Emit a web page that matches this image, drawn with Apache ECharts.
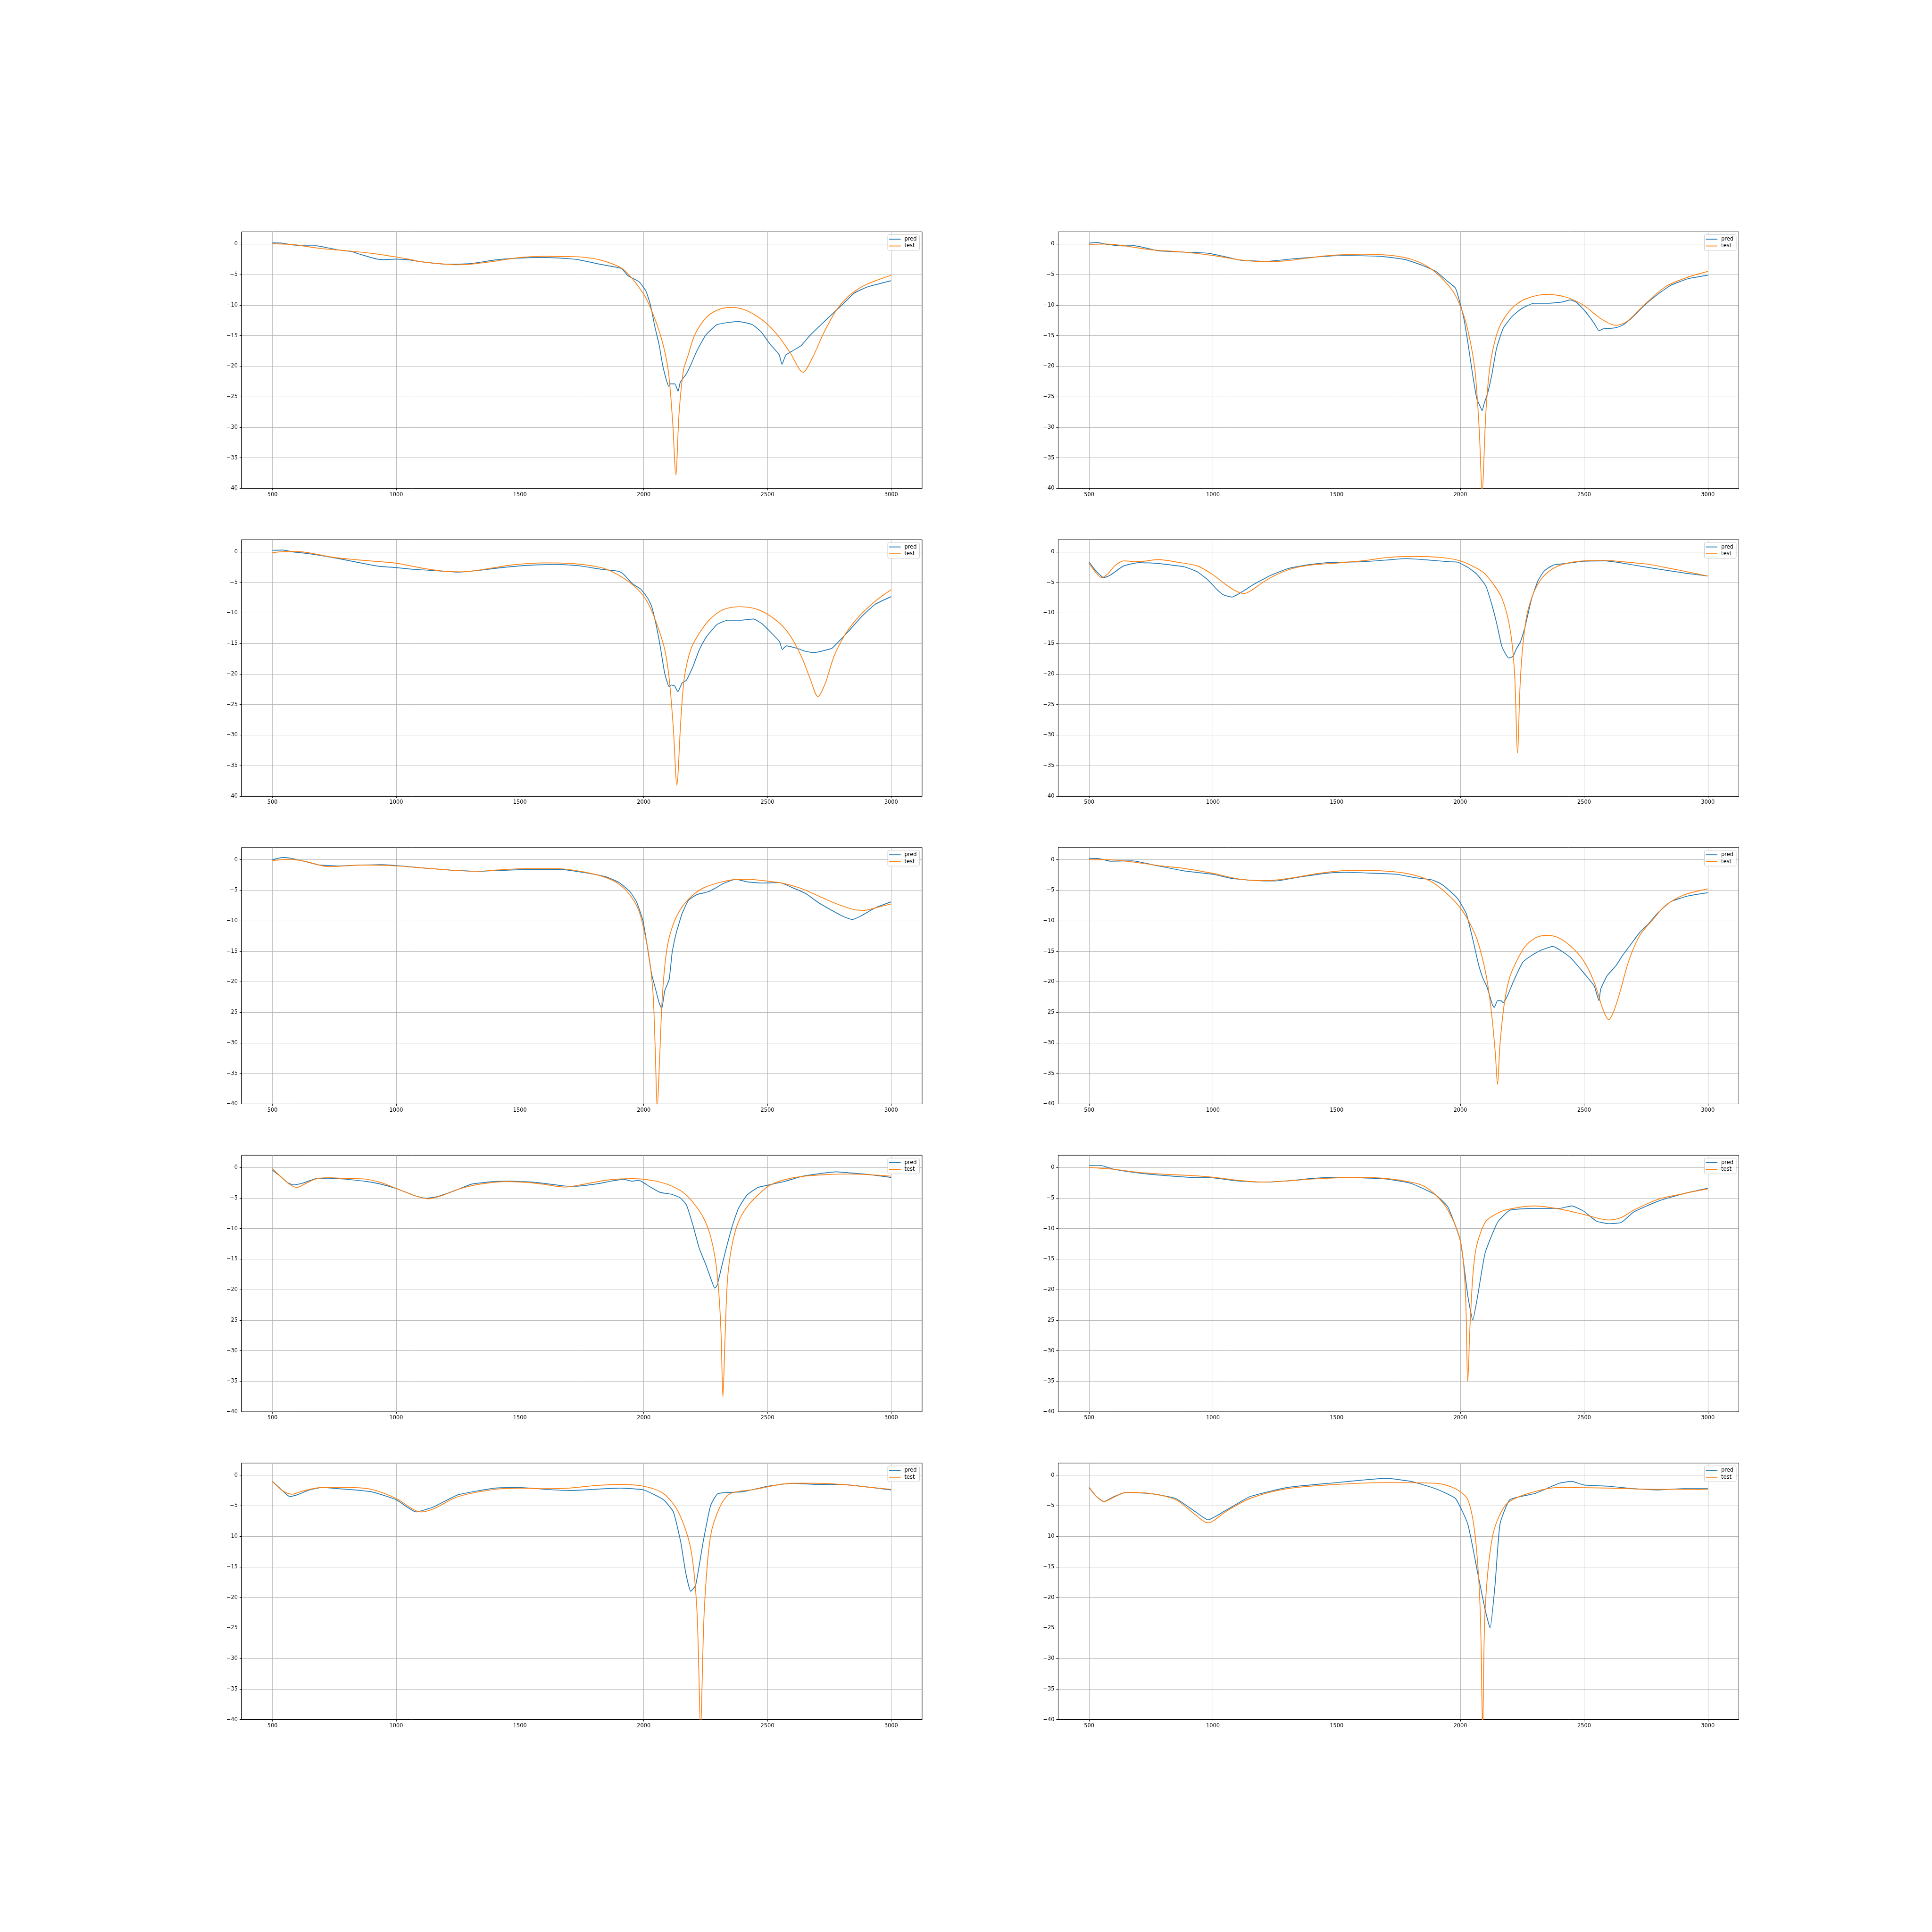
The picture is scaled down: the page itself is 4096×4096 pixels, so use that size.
<!DOCTYPE html>
<html><head><meta charset="utf-8">
<script src="https://cdn.jsdelivr.net/npm/echarts@6/dist/echarts.min.js"></script>
<style>html,body{margin:0;padding:0;background:#fff}#c{width:4096px;height:4096px}</style>
</head><body><div id="c"></div>
<script>
const xTicks=[500,1000,1500,2000,2500,3000];
const yTicks=[-40,-35,-30,-25,-20,-15,-10,-5,0];
const seriesNames=['pred','test'];

const pred0=[[500,0.2],[533,0.18],[585,-0.16],[637,-0.28],[679,-0.28],[715,-0.55],[768,-0.97],[820,-1.22],[846,-1.57],[898,-2.2],[924,-2.47],[950,-2.54],[1002,-2.47],[1054,-2.6],[1100,-2.9],[1200,-3.3],[1300,-3.2],[1400,-2.6],[1500,-2.3],[1600,-2.2],[1700,-2.4],[1740,-2.6],[1830,-3.36],[1910,-4.0],[1937,-5.2],[1982,-6.2],[2009,-7.7],[2027,-9.9],[2045,-13.5],[2063,-16.6],[2076,-19.7],[2090,-22.0],[2101,-23.3],[2108,-22.9],[2126,-22.9],[2139,-24.1],[2148,-22.6],[2170,-21.4],[2188,-20.0],[2215,-17.5],[2251,-14.9],[2296,-13.2],[2350,-12.8],[2386,-12.7],[2439,-13.2],[2475,-14.4],[2511,-16.4],[2547,-18.1],[2559,-19.7],[2574,-18.2],[2601,-17.5],[2637,-16.6],[2673,-14.9],[2709,-13.5],[2753,-11.8],[2798,-10.1],[2852,-8.0],[2906,-7.0],[2951,-6.5],[3000,-6.0]];
const test0=[[500,0.04],[585,-0.1],[690,-0.7],[794,-1.08],[898,-1.5],[1002,-2.13],[1054,-2.51],[1100,-2.9],[1200,-3.3],[1250,-3.4],[1300,-3.3],[1400,-2.8],[1500,-2.2],[1600,-2.0],[1700,-2.05],[1740,-2.09],[1830,-2.66],[1919,-4.2],[2000,-8.2],[2036,-11.3],[2072,-15.5],[2099,-20.6],[2117,-29.1],[2130,-37.8],[2143,-27.7],[2161,-20.6],[2179,-18.3],[2206,-14.9],[2251,-12.1],[2296,-10.85],[2350,-10.37],[2404,-10.7],[2457,-11.8],[2502,-13.2],[2547,-15.2],[2592,-17.8],[2644,-21.0],[2682,-18.6],[2726,-14.7],[2771,-11.3],[2816,-9.0],[2861,-7.5],[2906,-6.5],[2951,-5.8],[3000,-5.1]];

const pred1=[[500,0.16],[533,0.25],[568,-0.03],[639,-0.3],[682,-0.27],[779,-1.1],[884,-1.32],[981,-1.5],[1042,-2.0],[1112,-2.64],[1217,-2.83],[1322,-2.42],[1427,-2.09],[1515,-1.9],[1603,-1.92],[1691,-2.06],[1778,-2.55],[1848,-3.52],[1901,-4.48],[1945,-6.0],[1980,-7.2],[1997,-9.4],[2015,-12.4],[2032,-16.6],[2050,-21.5],[2067,-25.4],[2080,-26.6],[2088,-27.3],[2097,-26.0],[2111,-24.3],[2129,-21.0],[2146,-17.1],[2173,-13.8],[2208,-11.9],[2243,-10.7],[2296,-9.7],[2357,-9.7],[2410,-9.5],[2444,-9.15],[2471,-9.6],[2506,-11.1],[2541,-13.0],[2560,-14.2],[2576,-13.9],[2628,-13.7],[2655,-13.3],[2690,-12.2],[2742,-10.1],[2795,-8.3],[2848,-6.8],[2918,-5.7],[3000,-5.1]];
const test1=[[500,-0.05],[568,0],[639,-0.27],[744,-0.9],[884,-1.32],[1000,-1.87],[1112,-2.6],[1217,-2.9],[1305,-2.7],[1427,-2.06],[1499,-1.79],[1603,-1.65],[1708,-1.81],[1796,-2.42],[1866,-3.65],[1918,-5.3],[1971,-7.8],[2006,-10.8],[2032,-14.4],[2059,-20.7],[2076,-30.3],[2088,-40.5],[2103,-27.6],[2120,-19.9],[2146,-14.9],[2173,-12.4],[2217,-10.2],[2269,-8.9],[2348,-8.24],[2427,-8.7],[2497,-10.0],[2567,-12.2],[2628,-13.3],[2672,-12.7],[2742,-10.0],[2830,-6.95],[2918,-5.44],[3000,-4.48]];

const pred2=[[500,0.25],[542,0.3],[586,-0.03],[639,-0.25],[726,-0.8],[814,-1.48],[902,-2.17],[937,-2.39],[1000,-2.58],[1067,-2.86],[1130,-3.0],[1253,-3.32],[1340,-3.0],[1427,-2.58],[1515,-2.25],[1603,-2.09],[1673,-2.09],[1743,-2.3],[1831,-2.86],[1901,-3.19],[1919,-3.68],[1954,-5.2],[1989,-6.15],[2015,-7.5],[2032,-8.9],[2050,-11.9],[2067,-15.5],[2085,-19.9],[2103,-22.1],[2111,-21.8],[2125,-21.95],[2138,-22.9],[2155,-21.5],[2173,-21.0],[2199,-18.8],[2225,-16.0],[2252,-14.0],[2296,-11.9],[2339,-11.2],[2392,-11.2],[2444,-11.0],[2479,-11.8],[2514,-13.2],[2549,-14.7],[2560,-16.0],[2576,-15.4],[2620,-15.8],[2655,-16.3],[2690,-16.5],[2725,-16.2],[2760,-15.8],[2795,-14.4],[2830,-12.9],[2883,-10.5],[2935,-8.6],[3000,-7.33]];
const test2=[[500,-0.14],[568,0.08],[639,-0.1],[744,-0.88],[831,-1.26],[937,-1.62],[1007,-1.9],[1112,-2.72],[1200,-3.2],[1270,-3.27],[1357,-2.86],[1463,-2.17],[1603,-1.81],[1708,-1.9],[1814,-2.45],[1866,-3.13],[1936,-4.78],[1989,-6.7],[2024,-8.9],[2059,-12.5],[2085,-16.0],[2103,-20.7],[2120,-29.0],[2134,-38.2],[2150,-27.6],[2164,-20.7],[2190,-16.0],[2225,-13.3],[2269,-11.0],[2322,-9.45],[2388,-8.98],[2462,-9.45],[2532,-11.1],[2585,-13.3],[2637,-17.1],[2672,-20.7],[2704,-23.7],[2734,-21.5],[2769,-17.1],[2813,-13.6],[2865,-10.8],[2935,-8.1],[3000,-6.2]];

const pred3=[[500,-1.68],[525,-3.0],[560,-4.23],[586,-3.8],[639,-2.31],[700,-1.76],[779,-1.9],[884,-2.45],[937,-3.27],[981,-4.64],[1016,-6.15],[1042,-7.03],[1077,-7.4],[1112,-6.7],[1165,-5.33],[1235,-3.82],[1305,-2.72],[1375,-2.17],[1463,-1.76],[1603,-1.62],[1708,-1.32],[1778,-1.1],[1866,-1.32],[1954,-1.62],[1989,-1.68],[2032,-2.58],[2067,-3.68],[2103,-5.6],[2129,-8.9],[2146,-11.6],[2167,-15.4],[2181,-16.6],[2195,-17.4],[2213,-17.1],[2225,-16.0],[2243,-14.7],[2260,-12.5],[2287,-7.8],[2313,-4.78],[2339,-3.13],[2375,-2.17],[2427,-1.9],[2497,-1.54],[2585,-1.48],[2655,-1.84],[2743,-2.45],[2830,-3.0],[2918,-3.54],[3000,-3.96]];
const test3=[[500,-1.9],[525,-3.27],[551,-4.23],[577,-3.54],[603,-2.31],[639,-1.48],[700,-1.62],[779,-1.26],[867,-1.76],[937,-2.31],[998,-3.68],[1051,-5.33],[1094,-6.43],[1126,-6.84],[1156,-6.3],[1200,-5.05],[1252,-3.82],[1322,-2.72],[1392,-2.17],[1499,-1.84],[1603,-1.48],[1708,-0.91],[1814,-0.74],[1918,-0.91],[1989,-1.35],[2041,-2.17],[2094,-3.41],[2129,-5.05],[2164,-7.25],[2190,-10.5],[2208,-14.7],[2220,-20.7],[2231,-32.9],[2241,-22.1],[2252,-15.5],[2269,-10.3],[2296,-6.7],[2331,-4.23],[2375,-2.72],[2427,-1.9],[2497,-1.48],[2585,-1.37],[2655,-1.62],[2760,-2.03],[2830,-2.58],[2900,-3.13],[3000,-3.96]];

const pred4=[[500,0],[542,0.36],[577,0.22],[639,-0.38],[691,-0.88],[761,-1.02],[866,-0.88],[937,-0.82],[1000,-0.96],[1112,-1.37],[1217,-1.7],[1340,-1.9],[1427,-1.76],[1515,-1.62],[1656,-1.57],[1761,-2.12],[1848,-2.8],[1901,-3.76],[1945,-5.27],[1971,-6.9],[1997,-9.95],[2015,-14.3],[2032,-18.7],[2050,-21.5],[2062,-23.4],[2073,-24.4],[2085,-21.5],[2103,-19.6],[2115,-15.2],[2129,-12.4],[2155,-8.85],[2181,-6.65],[2216,-5.7],[2260,-5.27],[2287,-4.73],[2322,-3.9],[2371,-3.21],[2418,-3.63],[2479,-3.82],[2549,-3.76],[2602,-4.6],[2655,-5.55],[2707,-7.06],[2760,-8.3],[2804,-9.26],[2843,-9.8],[2883,-9.1],[2935,-7.9],[3000,-6.9]];
const test4=[[500,-0.16],[568,0.08],[639,-0.33],[726,-1.15],[796,-1.02],[866,-0.88],[1000,-1.02],[1112,-1.37],[1217,-1.7],[1322,-1.9],[1427,-1.65],[1515,-1.48],[1656,-1.48],[1761,-2.03],[1848,-2.94],[1901,-4.04],[1945,-5.8],[1980,-8.3],[2006,-12.4],[2024,-16.5],[2038,-22.0],[2046,-30.3],[2055,-40.5],[2064,-33.0],[2076,-22.0],[2094,-14.6],[2120,-10.5],[2155,-7.75],[2199,-5.8],[2243,-4.6],[2304,-3.76],[2357,-3.3],[2418,-3.21],[2497,-3.49],[2567,-3.9],[2637,-4.73],[2707,-5.96],[2777,-7.2],[2848,-8.16],[2891,-8.3],[2935,-7.9],[3000,-7.25]];

const pred5=[[500,0.22],[542,0.16],[586,-0.25],[674,-0.19],[779,-1.02],[884,-1.84],[1000,-2.39],[1077,-3.08],[1165,-3.4],[1252,-3.49],[1357,-2.8],[1463,-2.2],[1533,-2.06],[1638,-2.2],[1743,-2.39],[1814,-2.94],[1884,-3.3],[1919,-3.9],[1954,-5.0],[1989,-6.37],[2024,-8.85],[2050,-13.0],[2073,-17.1],[2090,-19.3],[2108,-20.9],[2129,-23.7],[2137,-24.2],[2150,-23.1],[2164,-23.1],[2173,-23.4],[2190,-22.3],[2216,-19.8],[2252,-16.8],[2287,-15.7],[2322,-14.9],[2374,-14.2],[2410,-15.0],[2444,-16.0],[2479,-17.6],[2514,-19.3],[2541,-20.7],[2560,-23.1],[2567,-21.2],[2593,-19.0],[2628,-17.4],[2655,-15.7],[2690,-13.8],[2725,-11.9],[2760,-10.5],[2795,-8.85],[2848,-6.92],[2918,-5.96],[3000,-5.41]];
const test5=[[500,0],[568,0],[656,-0.27],[779,-0.96],[884,-1.43],[1000,-2.25],[1112,-3.21],[1217,-3.43],[1305,-3.08],[1427,-2.25],[1515,-1.84],[1603,-1.76],[1726,-1.95],[1814,-2.53],[1884,-3.63],[1945,-5.55],[1997,-7.75],[2032,-9.95],[2067,-13.0],[2103,-18.7],[2125,-24.8],[2141,-31.6],[2150,-36.8],[2160,-30.3],[2178,-23.4],[2199,-19.3],[2225,-16.8],[2260,-14.3],[2304,-12.8],[2348,-12.4],[2392,-12.7],[2444,-14.1],[2497,-16.5],[2541,-20.1],[2576,-24.5],[2599,-26.2],[2620,-24.8],[2646,-21.5],[2681,-16.5],[2725,-12.4],[2778,-9.8],[2830,-7.47],[2901,-5.82],[3000,-4.78]];

const pred6=[[500,-0.44],[533,-1.48],[560,-2.45],[586,-2.86],[621,-2.58],[674,-1.84],[726,-1.76],[796,-1.92],[884,-2.31],[937,-2.72],[1007,-3.54],[1077,-4.64],[1121,-5.05],[1165,-4.78],[1235,-3.82],[1305,-2.72],[1392,-2.31],[1463,-2.23],[1568,-2.45],[1673,-3.0],[1726,-3.08],[1814,-2.67],[1866,-2.25],[1919,-1.95],[1954,-2.25],[1980,-2.09],[2024,-3.13],[2067,-4.09],[2111,-4.37],[2146,-4.92],[2173,-6.15],[2199,-9.45],[2225,-13.3],[2252,-16.0],[2274,-18.5],[2287,-19.75],[2297,-19.3],[2313,-16.6],[2330,-13.8],[2357,-9.7],[2383,-6.7],[2418,-4.5],[2462,-3.27],[2506,-2.86],[2567,-2.31],[2637,-1.48],[2725,-0.93],[2778,-0.71],[2830,-0.88],[2918,-1.2],[3000,-1.65]];
const test6=[[500,-0.19],[533,-1.48],[568,-2.72],[598,-3.27],[630,-2.72],[674,-1.9],[726,-1.68],[796,-1.81],[875,-1.9],[937,-2.45],[1007,-3.54],[1077,-4.64],[1130,-5.14],[1182,-4.64],[1252,-3.54],[1340,-2.72],[1445,-2.31],[1533,-2.45],[1603,-2.8],[1682,-3.21],[1761,-2.72],[1848,-2.09],[1954,-1.84],[2041,-2.17],[2111,-3.0],[2164,-4.23],[2208,-6.15],[2243,-8.35],[2269,-11.1],[2290,-15.2],[2304,-20.7],[2313,-27.6],[2320,-37.6],[2329,-27.6],[2339,-18.2],[2357,-12.7],[2383,-8.9],[2418,-6.43],[2462,-4.5],[2506,-3.0],[2567,-2.03],[2637,-1.48],[2743,-1.15],[2830,-1.07],[2918,-1.2],[3000,-1.43]];

const pred7=[[500,0.3],[550,0.3],[600,-0.3],[700,-0.9],[800,-1.3],[900,-1.6],[1000,-1.7],[1100,-2.2],[1200,-2.4],[1300,-2.2],[1400,-1.8],[1500,-1.6],[1600,-1.7],[1700,-1.9],[1800,-2.6],[1900,-4.5],[1950,-6.5],[2000,-12],[2030,-21],[2050,-25],[2070,-21],[2100,-14],[2150,-9],[2200,-7],[2300,-6.7],[2400,-6.7],[2450,-6.3],[2500,-7.2],[2550,-8.8],[2600,-9.2],[2650,-9],[2700,-7.3],[2800,-5.5],[2900,-4.3],[3000,-3.4]];
const test7=[[500,0],[600,-0.3],[700,-0.8],[800,-1.1],[900,-1.3],[1000,-1.6],[1100,-2.1],[1200,-2.4],[1300,-2.2],[1400,-1.9],[1500,-1.7],[1600,-1.6],[1700,-1.8],[1800,-2.4],[1850,-3],[1900,-4.5],[1950,-7],[2000,-12],[2020,-20],[2030,-35],[2040,-25],[2060,-14],[2100,-9],[2150,-7.5],[2200,-6.8],[2300,-6.3],[2400,-6.8],[2500,-7.7],[2600,-8.6],[2650,-8.2],[2700,-7],[2800,-5.2],[2900,-4.3],[3000,-3.5]];

const pred8=[[500,-1],[540,-2.5],[570,-3.5],[600,-3.2],[650,-2.4],[700,-2.0],[800,-2.3],[900,-2.7],[1000,-4],[1080,-6],[1150,-5.2],[1250,-3.2],[1400,-2.1],[1500,-2.0],[1600,-2.3],[1700,-2.5],[1800,-2.3],[1900,-2.1],[2000,-2.4],[2080,-4],[2120,-6],[2150,-11],[2170,-16],[2190,-19],[2210,-18],[2240,-11],[2270,-5],[2300,-3],[2400,-2.7],[2500,-1.8],[2600,-1.3],[2700,-1.5],[2800,-1.5],[2900,-1.9],[3000,-2.4]];
const test8=[[500,-1],[540,-2.5],[580,-3.1],[620,-2.6],[700,-2],[800,-2],[900,-2.3],[1000,-3.8],[1100,-6],[1150,-5.5],[1250,-3.5],[1400,-2.3],[1500,-2.1],[1600,-2.2],[1700,-2.1],[1800,-1.7],[1900,-1.5],[2000,-1.8],[2080,-3],[2140,-6],[2190,-12],[2215,-22],[2230,-41],[2245,-22],[2270,-10],[2310,-5],[2350,-3],[2450,-2.3],[2600,-1.3],[2700,-1.3],[2800,-1.5],[2900,-1.9],[3000,-2.3]];

const pred9=[[500,-2],[530,-3.5],[560,-4.3],[600,-3.5],[650,-2.8],[750,-3],[850,-3.8],[930,-6],[980,-7.3],[1050,-5.8],[1150,-3.5],[1300,-2],[1500,-1.2],[1600,-0.8],[1700,-0.5],[1800,-1],[1900,-2.2],[1980,-3.8],[2030,-8],[2070,-16],[2100,-22],[2120,-25],[2140,-18],[2160,-8],[2200,-4],[2300,-3],[2400,-1.3],[2450,-1],[2500,-1.6],[2600,-1.8],[2700,-2.2],[2800,-2.4],[2900,-2.2],[3000,-2.2]];
const test9=[[500,-2],[530,-3.5],[560,-4.3],[600,-3.6],[650,-2.8],[750,-3],[850,-4],[930,-6.5],[980,-7.8],[1050,-6],[1150,-3.8],[1300,-2.2],[1500,-1.5],[1700,-1.2],[1900,-1.3],[1980,-2.2],[2030,-4],[2060,-10],[2080,-22],[2090,-41],[2100,-22],[2130,-10],[2180,-5],[2250,-3.3],[2400,-2],[2600,-2.1],[2800,-2.3],[3000,-2.3]];

const predData=[pred0,pred1,pred2,pred3,pred4,pred5,pred6,pred7,pred8,pred9];
const testData=[test0,test1,test2,test3,test4,test5,test6,test7,test8,test9];

const K=4096/5000;
const FONT='DejaVu Sans';
const FS=13.9*K;
const chart=echarts.init(document.getElementById('c'),null,{renderer:'canvas',width:4096,height:4096});
const grids=[],xAxes=[],yAxes=[],series=[],legends=[];
const fmt=v=>String(v).replace('-','\u2212');
for(let i=0;i<10;i++){
  const row=Math.floor(i/2),col=i%2;
  const left=(col===0?625:2738.6)*K, top=(600+row*796.6)*K, w=1761.4*K, h=663.8*K;
  grids.push({left:left,top:top,width:w,height:h,show:true,borderColor:'#000',borderWidth:1,backgroundColor:'#fff'});
  xAxes.push({type:'value',gridIndex:i,min:375,max:3125,
    axisLine:{show:true,onZero:false,lineStyle:{color:'#000',width:1}},
    axisTick:{show:true,length:4,customValues:xTicks,lineStyle:{color:'#000',width:1}},
    axisLabel:{show:true,customValues:xTicks,margin:8,color:'#000',fontFamily:FONT,fontSize:FS,formatter:fmt},
    splitLine:{show:true,lineStyle:{color:'#b0b0b0',width:0.9}}});
  yAxes.push({type:'value',gridIndex:i,min:-40,max:2,
    axisLine:{show:true,onZero:false,lineStyle:{color:'#000',width:1}},
    axisTick:{show:true,length:4,customValues:yTicks,lineStyle:{color:'#000',width:1}},
    axisLabel:{show:true,customValues:yTicks,margin:8,color:'#000',fontFamily:FONT,fontSize:FS,formatter:fmt},
    splitLine:{show:true,lineStyle:{color:'#b0b0b0',width:0.9}}});
  series.push({name:seriesNames[0],type:'line',xAxisIndex:i,yAxisIndex:i,data:predData[i],showSymbol:false,symbol:'none',smooth:0.15,lineStyle:{color:'#1f77b4',width:1.7},itemStyle:{color:'#1f77b4'},clip:true,z:3});
  series.push({name:seriesNames[1],type:'line',xAxisIndex:i,yAxisIndex:i,data:testData[i],showSymbol:false,symbol:'none',smooth:0.3,lineStyle:{color:'#ff7f0e',width:1.7},itemStyle:{color:'#ff7f0e'},clip:true,z:4});
  legends.push({data:seriesNames,orient:'vertical',top:top+6,right:4096-(left+w)+5.5,
    icon:'rect',itemWidth:24.6,itemHeight:1.8,itemGap:3.5,padding:[4,6,4,3],
    backgroundColor:'rgba(255,255,255,0.8)',borderColor:'#cccccc',borderWidth:1,borderRadius:3,
    selectedMode:false,textStyle:{fontFamily:FONT,fontSize:FS,color:'#000',padding:[0,0,0,3]}});
}
chart.setOption({backgroundColor:'#fff',animation:false,grid:grids,xAxis:xAxes,yAxis:yAxes,series:series,legend:legends});
</script></body></html>
